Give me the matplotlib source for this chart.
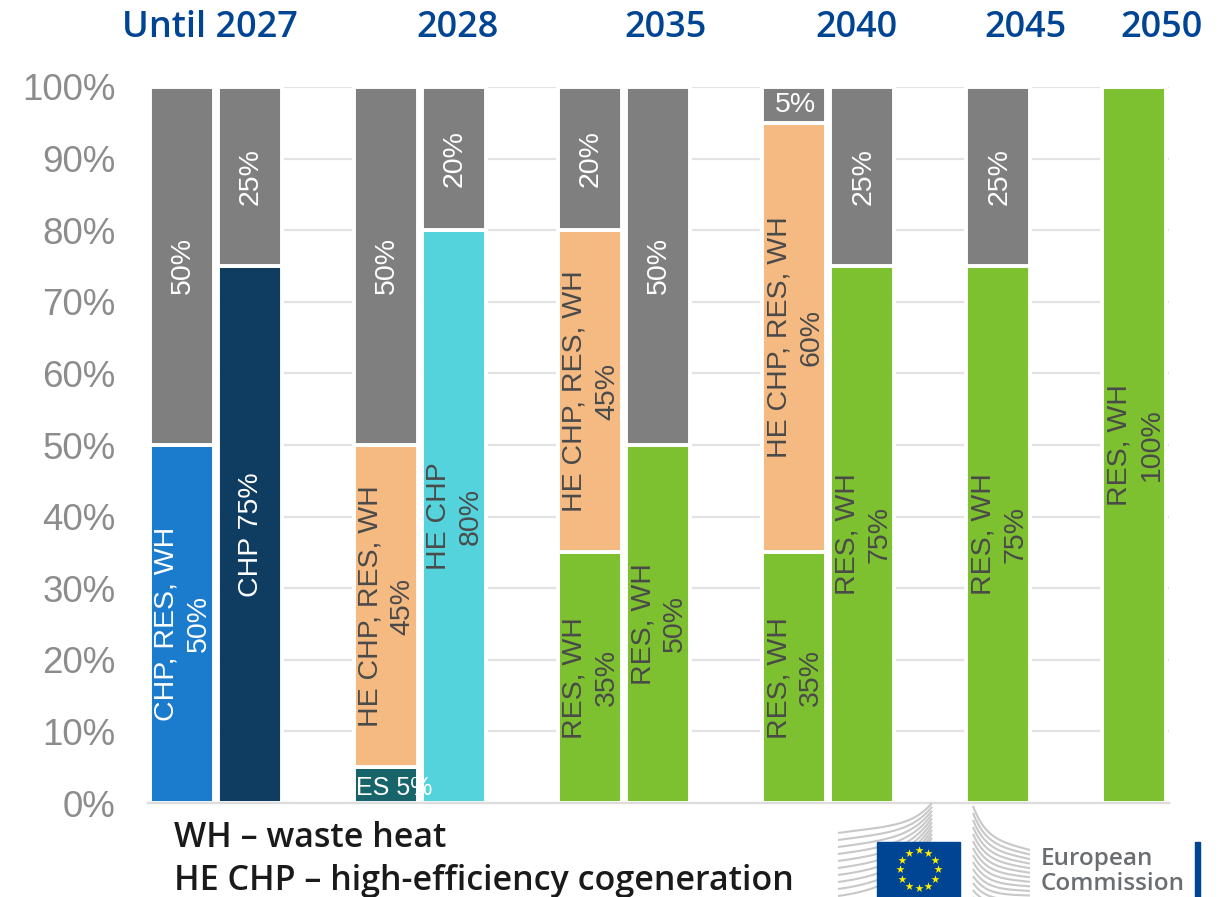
import numpy as np
import matplotlib
matplotlib.use("Agg")
import matplotlib.pyplot as plt

plt.rcParams['font.family'] = ['Liberation Sans', 'DejaVu Sans']

slots = list(range(15))
period_labels = ["Until 2027", "2028", "2035", "2040", "2045", "2050"]
period_centres_px = [209.5, 457, 666, 856, 1025, 1161]
y_ticks = [0, 10, 20, 30, 40, 50, 60, 70, 80, 90, 100]
notes = ["WH – waste heat", "HE CHP – high-efficiency cogeneration"]

# stacked bottom to top; one value per slot
chp_mix = [50, 0, 0, 0, 0, 0, 0, 0, 0, 0, 0, 0, 0, 0, 0]
chp     = [0, 75, 0, 0, 0, 0, 0, 0, 0, 0, 0, 0, 0, 0, 0]
es      = [0, 0, 0, 5, 0, 0, 0, 0, 0, 0, 0, 0, 0, 0, 0]
res_wh  = [0, 0, 0, 0, 0, 0, 35, 50, 0, 35, 75, 0, 75, 0, 100]
he_mix  = [0, 0, 0, 45, 0, 0, 45, 0, 0, 60, 0, 0, 0, 0, 0]
he_chp  = [0, 0, 0, 0, 80, 0, 0, 0, 0, 0, 0, 0, 0, 0, 0]
other   = [50, 25, 0, 50, 20, 0, 20, 50, 0, 5, 25, 0, 25, 0, 0]

series = [
    (chp_mix, "#1B7BCC", "CHP, RES, WH\n{}%", "white"),
    (chp,     "#0F3D62", "CHP {}%", "white"),
    (es,      "#17646B", "ES {}%", "white"),
    (res_wh,  "#7DC030", "RES, WH\n{}%", "#4A4A4A"),
    (he_mix,  "#F4BA82", "HE CHP, RES, WH\n{}%", "#4A4A4A"),
    (he_chp,  "#54D3DC", "HE CHP\n{}%", "#4A4A4A"),
    (other,   "#7F7F7F", "{}%", "white"),
]

W, H = 1228, 897
fig = plt.figure(figsize=(W / 100, H / 100), dpi=100)
ax = fig.add_axes([147.5 / W, 1 - 803 / H, 1021 / W, 716 / H])
ax.set_xlim(-0.5, 14.5)
ax.set_ylim(0, 100)
ax.set_axisbelow(True)
ax.grid(axis='y', color='#E3E3E3', lw=1.6)
ax.grid(axis='x', visible=False)
for s in ['top', 'left', 'right']:
    ax.spines[s].set_visible(False)
ax.spines['bottom'].set_color('#DDDDDD')
ax.spines['bottom'].set_linewidth(1.7)
ax.set_xticks([])
ax.set_yticks(y_ticks)
ax.set_yticklabels([f"{v}%" for v in y_ticks], fontsize=26.5, color='#8C8C8C')
ax.tick_params(axis='y', length=0, pad=23)

bottom = np.zeros(15)
for values, colour, fmt, text_colour in series:
    vals = np.array(values, dtype=float)
    ax.bar(slots, vals, width=0.94, bottom=bottom, color=colour,
           edgecolor='white', linewidth=2.8, zorder=2)
    for i, v in enumerate(values):
        if not v:
            continue
        mid = bottom[i] + v / 2
        small = v <= 5
        is_es = small and bottom[i] == 0
        xo = 8 if is_es else 1
        yo = -3 if is_es else 0
        ax.annotate(fmt.format(v), (i, mid), xytext=(xo, yo), textcoords='offset pixels',
                    rotation=0 if small else 90, ha='center', va='center',
                    rotation_mode='anchor', ma='center',
                    fontsize=18 if is_es else 20.5, color=text_colour,
                    linespacing=1.3, zorder=5, annotation_clip=False)
    bottom += vals

# pixel overlay: headings, notes and logo
ov = fig.add_axes([0, 0, 1, 1], zorder=10)
ov.set_xlim(0, W)
ov.set_ylim(H, 0)
ov.axis('off')
ov.patch.set_alpha(0)

for lab, x in zip(period_labels, period_centres_px):
    ov.text(x, 28, lab, ha='center', va='center', fontsize=26,
            color='#004494', family='Open Sans', weight='semibold')
for lab, y in zip(notes, [838, 881]):
    ov.text(174, y, lab, ha='left', va='center', fontsize=24.5,
            color='#1A1A1A', family='Open Sans', weight='semibold', clip_on=False)

def curve(p0, p1, p2, p3):
    t = np.linspace(0, 1, 40)
    b = lambda a: (1-t)**3*a[0] + 3*(1-t)**2*t*a[1] + 3*(1-t)*t**2*a[2] + t**3*a[3]
    return b((p0[0], p1[0], p2[0], p3[0])), b((p0[1], p1[1], p2[1], p3[1]))

grey = '#C8C8C8'
for k in range(10):
    d = 7.0 * k
    x, y = curve((838, 833 + d), (890, 826 + d), (912, 826 + d * .7), (932, 803 + d * .55))
    ov.plot(x, y, color=grey, lw=1.5, solid_capstyle='butt')
for k in range(14):
    d = 7.0 * k
    x, y = curve((973, 806 + d), (985, 838 + d * .8), (1000, 842 + d * .75), (1030, 850 + d * .65))
    ov.plot(x, y, color=grey, lw=1.5, solid_capstyle='butt')

ov.add_patch(plt.Rectangle((877, 842), 83, 56, color='#004494', zorder=3))
ang = np.deg2rad(np.arange(0, 360, 30))
ov.scatter(918.5 + 19 * np.cos(ang), 869.5 + 19 * np.sin(ang), marker='*', s=38,
           color='#FFED00', linewidths=0, zorder=4)
ov.add_patch(plt.Rectangle((1195, 842), 5, 56, color='#004494', zorder=3))
ov.text(1041, 859, "European", ha='left', va='center', fontsize=17.5, color='#6B6E70',
        family='Open Sans', weight='semibold')
ov.text(1041, 884, "Commission", ha='left', va='center', fontsize=17.5, color='#6B6E70',
        family='Open Sans', weight='semibold')

fig.savefig("out.png", dpi=100)
